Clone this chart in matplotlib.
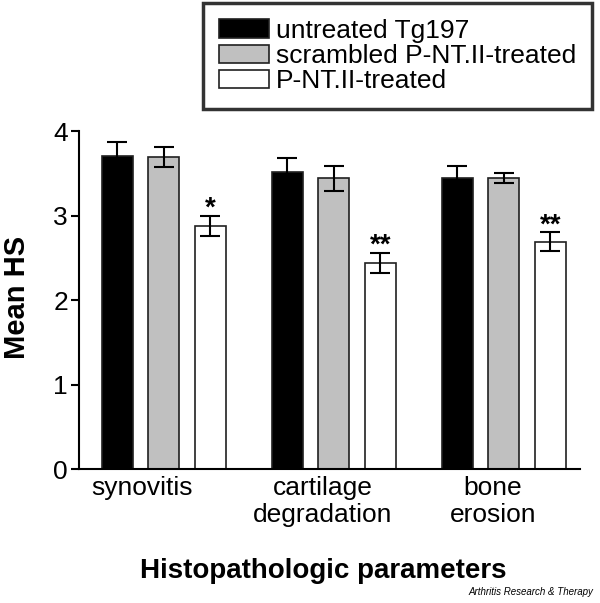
import numpy as np
import matplotlib.pyplot as plt

plt.rcParams['font.family'] = ['Liberation Sans', 'DejaVu Sans']

# data
groups = ['synovitis', 'cartilage\ndegradation', 'bone\nerosion']
series = ['untreated Tg197', 'scrambled P-NT.II-treated', 'P-NT.II-treated']
untreated = [3.70, 3.51, 3.44]
untreated_err = [0.17, 0.17, 0.15]
scrambled = [3.69, 3.44, 3.44]
scrambled_err = [0.12, 0.15, 0.06]
treated = [2.88, 2.44, 2.69]
treated_err = [0.12, 0.12, 0.11]
stars = ['*', '**', '**']

colors = ['black', '#c0c0c0', 'white']

fig = plt.figure(figsize=(6.0, 6.03), dpi=100)
ax = fig.add_axes([0.1317, 0.2222, 0.835, 0.5605])

x = np.arange(len(groups))
off = 0.2735
w = 0.182
vals = [untreated, scrambled, treated]
errs = [untreated_err, scrambled_err, treated_err]
for i, (v, e) in enumerate(zip(vals, errs)):
    ax.bar(x + (i - 1) * off, v, w, color=colors[i], edgecolor='#202020',
           linewidth=1.2, label=series[i], zorder=2)
    ax.errorbar(x + (i - 1) * off, v, yerr=e, fmt='none', ecolor='black',
                elinewidth=1.5, capsize=7, capthick=1.5, zorder=3)

for xi, v, e, s in zip(x, treated, treated_err, stars):
    ax.text(xi + off, v + e - 0.07, s, ha='center', va='bottom',
            fontsize=20, fontweight='bold')

ax.set_xlim(-0.499, 2.448)
ax.set_ylim(0, 4)
ax.set_yticks([0, 1, 2, 3, 4])
ax.tick_params(axis='y', labelsize=19, length=6, width=1.5, pad=2)
ax.spines['top'].set_visible(False)
ax.spines['right'].set_visible(False)
ax.spines['left'].set_linewidth(1.5)
ax.spines['bottom'].set_linewidth(1.5)
ax.spines['left'].set_bounds(0, 4)

label_shift = [-0.13, -0.065, -0.065]
ax.set_xticks(x + np.array(label_shift))
ax.set_xticklabels(groups, fontsize=19, linespacing=1.15)
ax.tick_params(axis='x', length=0, pad=5)

fig.text(17 / 600, 1 - 297 / 603, 'Mean HS', rotation=90, ha='center',
         va='center', fontsize=21, fontweight='bold')
fig.text(323 / 600, 1 - 571 / 603, 'Histopathologic parameters', ha='center',
         va='center', fontsize=20, fontweight='bold')

leg = fig.legend(loc='upper right', bbox_to_anchor=(592 / 600, 1 - 3 / 603),
                 fontsize=19, frameon=True, fancybox=False, edgecolor='black',
                 handlelength=1.9, handleheight=0.7, handletextpad=0.25,
                 labelspacing=0.05, borderpad=0.6, borderaxespad=0)
leg.get_frame().set_linewidth(2.5)

fig.text(593 / 600, 1 - 592 / 603, 'Arthritis Research & Therapy', ha='right',
         va='center', fontsize=7, style='italic')

fig.savefig('out.png', dpi=100)
